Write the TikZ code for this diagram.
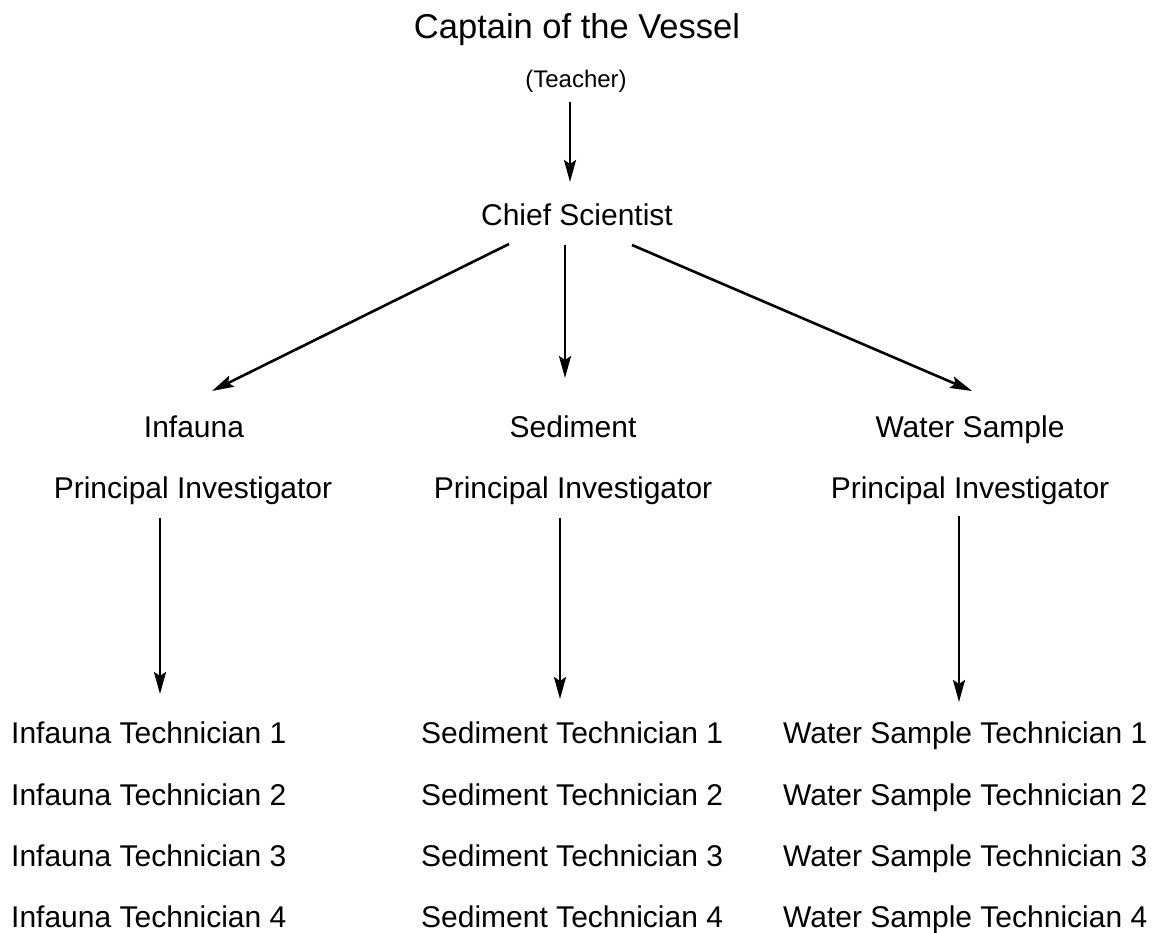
\documentclass[tikz,border=0pt]{standalone}
\usepackage{fontspec}
\setmainfont{Liberation Sans}
\usetikzlibrary{arrows.meta}
\begin{document}
\begin{tikzpicture}[x=1pt,y=-1pt,
  lbl/.style={inner sep=0pt, anchor=base, font=\fontsize{30}{36}\selectfont},
  tech/.style={inner sep=0pt, anchor=base west, font=\fontsize{30}{36}\selectfont},
  conn/.style={line width=2.6pt, -{Stealth[length=22pt,width=12pt,inset=4pt]}}]
\useasboundingbox[fill=white] (0,0) rectangle (1168,933);

% top
\node[lbl, font=\fontsize{34.5}{40}\selectfont] (captain) at (577,39) {Captain of the Vessel};
\node[lbl, font=\fontsize{24}{29}\selectfont] (teacher) at (576,88) {(Teacher)};
\node[lbl] (chief) at (577,226) {Chief Scientist};

% principal investigators
\node[lbl] (inf) at (194,437) {Infauna};
\node[lbl] (sed) at (573,437) {Sediment};
\node[lbl] (wat) at (970,437) {Water Sample};
\node[lbl] (infpi) at (193,498) {Principal Investigator};
\node[lbl] (sedpi) at (573,498) {Principal Investigator};
\node[lbl] (watpi) at (970,498) {Principal Investigator};

% technicians
\foreach \i/\y in {1/743,2/805,3/866,4/927}{
  \node[tech] (inft\i) at (11,\y) {Infauna Technician \i};
  \node[tech] (sedt\i) at (421,\y) {Sediment Technician \i};
  \node[tech] (watt\i) at (783,\y) {Water Sample Technician \i};
}

% connector end points
\coordinate (c0) at (570,102);
\coordinate (c1) at (570,182);
\coordinate (s1) at (509,244);
\coordinate (s2) at (565,245);
\coordinate (s3) at (632,245);
\coordinate (e1) at (212,391);
\coordinate (e2) at (565,378);
\coordinate (e3) at (972,391);
\coordinate (d1s) at (160,518);
\coordinate (d1e) at (160,694);
\coordinate (d2s) at (560,518);
\coordinate (d2e) at (560,699);
\coordinate (d3s) at (959,516);
\coordinate (d3e) at (959,702);

\draw[conn] (c0) -- (c1);
\draw[conn] (s1) -- (e1);
\draw[conn] (s2) -- (e2);
\draw[conn] (s3) -- (e3);
\draw[conn] (d1s) -- (d1e);
\draw[conn] (d2s) -- (d2e);
\draw[conn] (d3s) -- (d3e);
\end{tikzpicture}
\end{document}
